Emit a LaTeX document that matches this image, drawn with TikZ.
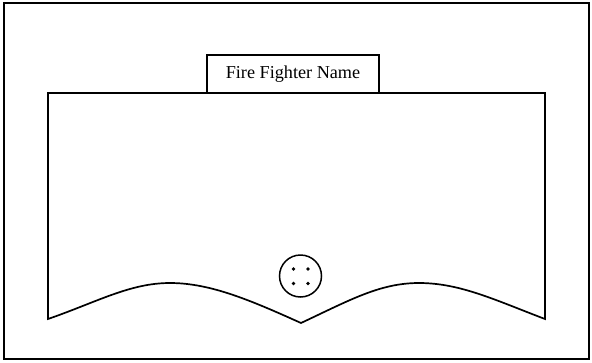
\documentclass[tikz,border=0pt]{standalone}
\usepackage{fontspec}
\setmainfont{Liberation Serif}
\begin{document}
\begin{tikzpicture}[x=1pt,y=-1pt,
  frame/.style={draw=black,line width=1.7pt},
  outline/.style={draw=black,line width=1.7pt,line join=miter},
  label/.style={draw=black,line width=1.7pt,fill=white,minimum width=172pt,minimum height=38pt,inner sep=0pt,font=\fontsize{18.2}{20}\selectfont},
  pin/.style={circle,fill=black,minimum size=3.8pt,inner sep=0pt}]
\useasboundingbox (0,0) rectangle (592,362);
\draw[frame] (4,3) rectangle (589,359);
\coordinate (tl) at (48,93);
\coordinate (tr) at (545,93);
\coordinate (bl) at (48,319);
\coordinate (br) at (545,319);
\coordinate (v) at (301,323);
\draw[outline] (bl) -- (tl) -- (tr) -- (br)
  .. controls (495,300) and (460,283) .. (419,283)
  .. controls (380,283) and (350,300) .. (v)
  .. controls (250,300) and (210,283) .. (170,283)
  .. controls (130,283) and (97,302) .. (bl) -- cycle;
\node[label] (name) at (293,74) {Fire Fighter Name};
\node[draw=black,line width=1.5pt,circle,minimum size=42pt,inner sep=0pt] (knob) at (300.5,276) {};
\node[pin] (p1) at (293.5,269) {};
\node[pin] (p2) at (308,269) {};
\node[pin] (p3) at (293.5,283.5) {};
\node[pin] (p4) at (308,283.5) {};
\end{tikzpicture}
\end{document}
